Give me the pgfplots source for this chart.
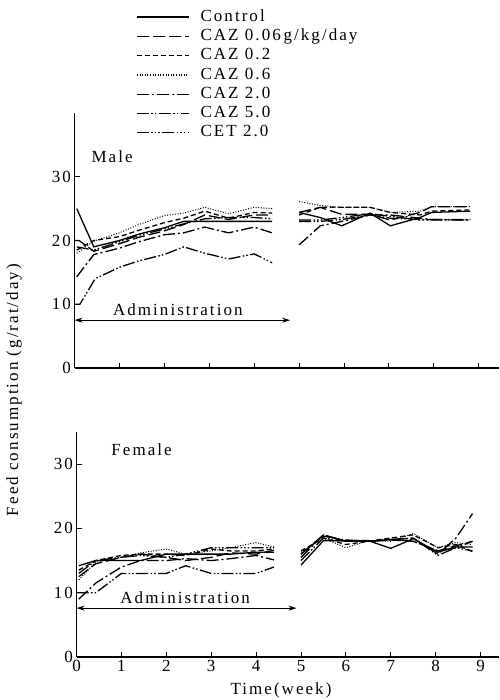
\documentclass[border=0pt]{standalone}
\usepackage{fontspec}
\setmainfont{Liberation Serif}[LetterSpace=12]
\usepackage{pgfplots}
\pgfplotsset{compat=1.18}
\usetikzlibrary{arrows.meta}

\newcommand{\fs}{\fontsize{17}{20}\selectfont}

\tikzset{
  s1/.style={solid},
  s2/.style={dash pattern=on 12pt off 4pt},
  s3/.style={dash pattern=on 5pt off 3pt},
  s4/.style={dash pattern=on 1pt off 1.6pt, line width=1pt},
  s5/.style={dash pattern=on 12pt off 3pt on 2pt off 3pt},
  s6/.style={dash pattern=on 12pt off 2.5pt on 1.5pt off 2pt on 1.5pt off 2.5pt},
  s7/.style={dash pattern=on 12pt off 2.5pt on 1.5pt off 2pt on 1.5pt off 2pt on 1.5pt off 2.5pt},
  admin/.style={{Stealth[length=8pt,width=5pt]}-{Stealth[length=8pt,width=5pt]}, line width=1pt},
}

\pgfplotsset{
  panel/.style={
    scale only axis,
    axis x line=bottom, axis y line=left,
    axis line style={-, line width=1.1pt},
    tick align=inside, major tick length=5pt,
    tick style={line width=1pt, black},
    xmin=0, ymin=0,
    xtick={0,...,9}, ytick={0,10,20,30},
    unbounded coords=jump,
    /pgf/number format/assume math mode=true,
    tick label style={font=\fs},
    every axis plot/.append style={line width=1.3pt, black},
    clip=false,
  },
}

\begin{document}
\begin{tikzpicture}[x=1pt,y=1pt]
\path[use as bounding box] (0,0) rectangle (499,700);

% male
\begin{axis}[panel,
  at={(74.5pt,332pt)}, anchor=south west,
  width=424.5pt, height=255pt,
  xmax=9.45, ymax=40,
  xticklabels={},
  legend style={at={(axis description cs:0.145,1.412)}, anchor=north west,
    draw=none, fill=none, inner sep=0pt, font=\fs, row sep=1.5pt,
    nodes={inner sep=1pt, text height=12pt, text depth=3.8pt}},
  /tikz/every odd column/.append style={column sep=10pt},
  legend cell align=left,
  legend image code/.code={\draw[#1, line width=1.3pt] (0pt,0pt) -- (52pt,0pt);},
]
\addplot[s1] coordinates {(0.05,25) (0.43,19) (1,20) (1.43,21) (2,22) (2.43,23) (2.9,23) (3.43,23) (4,23) (4.4,23) (4.7,nan)
  (5,24.4) (5.47,23.6) (5.95,22.3) (6.58,24.3) (7.03,22.3) (7.69,23.6) (7.95,24.4) (8.81,24.6)};
\addlegendentry{Control}
\addplot[s2] coordinates {(0,20) (0.1,20) (0.43,18.3) (1,19.5) (1.43,20.5) (2,21.5) (2.43,22.5) (2.9,24) (3.43,23.3) (4,24) (4.4,24) (4.7,nan)
  (5,24.4) (5.47,25.2) (5.95,24.1) (6.58,24.1) (7.03,23.2) (7.69,24.4) (7.95,25.3) (8.81,25.3)};
\addlegendentry{CAZ 0.06\,g/kg/day}
\addplot[s3] coordinates {(0.05,18.5) (0.43,20) (1,20.6) (1.43,21.6) (2,22.8) (2.43,23.5) (2.9,24.6) (3.43,23.5) (4,24.4) (4.4,24.3) (4.7,nan)
  (5,24) (5.47,25.2) (5.95,25.2) (6.58,25.2) (7.03,24.4) (7.69,24) (7.95,24.6) (8.81,24.8)};
\addlegendentry{CAZ 0.2}
\addplot[s4] coordinates {(0.05,18) (0.43,19.9) (1,21.2) (1.43,22.5) (2,23.9) (2.43,24.3) (2.9,25.2) (3.43,24.2) (4,25.2) (4.4,25) (4.7,nan)
  (5,26.1) (5.47,25.5) (5.95,25.2) (6.58,25.2) (7.03,24.4) (7.69,24.6) (7.95,25.3) (8.81,25.3)};
\addlegendentry{CAZ 0.6}
\addplot[s5] coordinates {(0.05,14.3) (0.43,17.8) (1,18.8) (1.43,19.8) (2,20.9) (2.43,21.2) (2.9,22.1) (3.43,21.2) (4,22.1) (4.4,21.2) (4.7,nan)
  (5,19.3) (5.47,22.3) (5.95,23) (6.58,24) (7.03,24) (7.69,23.5) (7.95,23.3) (8.81,23.2)};
\addlegendentry{CAZ 2.0}
\addplot[s6] coordinates {(0,10) (0.12,10) (0.46,14) (1,15.8) (1.43,16.8) (2,17.8) (2.43,19) (2.9,18) (3.43,17.1) (4,17.9) (4.4,16.5) (4.7,nan)
  (5,23) (5.47,23) (5.95,23.3) (6.58,24) (7.03,23.5) (7.69,23.3) (7.95,23.2) (8.81,23.2)};
\addlegendentry{CAZ 5.0}
\addplot[s7] coordinates {(0.05,19) (0.43,18.5) (1,19.8) (1.43,20.8) (2,21.8) (2.43,22.6) (2.9,23.4) (3.43,23.6) (4,23.6) (4.4,23.4) (4.7,nan)
  (5,23.2) (5.47,23.2) (5.95,23.6) (6.58,24.2) (7.03,23.8) (7.69,23.2) (7.95,23.3) (8.81,23.3)};
\addlegendentry{CET 2.0}
\node[anchor=west, font=\fs] at (axis cs:0.3,33.2) {Male};
\draw[admin] (axis cs:0,7.5) -- (axis cs:4.8,7.5);
\node[anchor=south, font=\fs, inner sep=1pt] at (axis cs:2.3,8) {Administration};
\end{axis}

% female
\begin{axis}[panel,
  at={(76.5pt,43pt)}, anchor=south west,
  width=422.5pt, height=225pt,
  xmax=9.41, ymax=35,
]
\addplot[s1] coordinates {(0.05,14.2) (0.43,15) (1,15) (1.43,15) (2,16) (2.43,16) (3,16) (3.43,16) (4,16.3) (4.4,16.3) (4.7,nan)
  (5,14.3) (5.5,18.1) (6,18.1) (6.5,18.1) (7,16.9) (7.5,18.4) (8.05,16.3) (8.45,17.1) (8.82,17.1)};
\addplot[s2] coordinates {(0.05,12.5) (0.43,14.5) (1,15.5) (1.43,16) (2,15.5) (2.43,15) (3,15.5) (3.43,16.2) (4,16) (4.4,16.6) (4.7,nan)
  (5,16) (5.5,19) (6,18) (6.5,18) (7,18.2) (7.5,18) (8.05,16.5) (8.45,17.3) (8.82,18)};
\addplot[s3] coordinates {(0.05,13.5) (0.43,15) (1,15.8) (1.43,16) (2,16) (2.43,15.8) (3,16.8) (3.43,16.5) (4,16.5) (4.4,16.8) (4.7,nan)
  (5,16.5) (5.5,18.5) (6,17.5) (6.5,18) (7,18.5) (7.5,19) (8.05,17) (8.45,17.5) (8.82,16.4)};
\addplot[s4] coordinates {(0.05,12) (0.43,14.8) (1,15.5) (1.43,16.2) (2,16.8) (2.43,16) (3,16.5) (3.43,17) (4,17.8) (4.4,17.1) (4.7,nan)
  (5,16.3) (5.5,18.5) (6,17) (6.5,18.1) (7,18) (7.5,19.2) (8.05,17) (8.45,17.8) (8.82,17.5)};
\addplot[s5] coordinates {(0.05,9) (0.43,11.5) (1,14) (1.43,15) (2,15) (2.43,15.3) (3,15) (3.43,15.3) (4,15.8) (4.4,15.1) (4.7,nan)
  (5,15.5) (5.5,19) (6,18) (6.5,18) (7,18.3) (7.5,18.5) (8.05,16) (8.45,18.5) (8.82,22.3)};
\addplot[s6] coordinates {(0,10) (0.43,10) (1,13) (1.43,13) (2,13) (2.43,14.2) (3,13) (3.43,13) (4,13) (4.4,14) (4.7,nan)
  (5,15) (5.5,18.5) (6,18) (6.5,18) (7,18.3) (7.5,18) (8.05,16.5) (8.45,17) (8.82,18)};
\addplot[s7] coordinates {(0.05,13) (0.43,15) (1,15.5) (1.43,15.8) (2,15.5) (2.43,16) (3,17) (3.43,17) (4,17) (4.4,17) (4.7,nan)
  (5,16) (5.5,18.8) (6,18.2) (6.5,18) (7,18.2) (7.5,18.5) (8.05,15.8) (8.45,17) (8.82,16.5)};
\node[anchor=west, font=\fs] at (axis cs:0.7,32.2) {Female};
\draw[admin] (axis cs:0,7.6) -- (axis cs:4.9,7.6);
\node[anchor=south, font=\fs, inner sep=1pt] at (axis cs:2.42,8.1) {Administration};
\end{axis}

\node[rotate=90, font=\fs] at (14,310) {Feed consumption (g/rat/day)};
\node[font=\fs] at (281,10) {Time(week)};
\end{tikzpicture}
\end{document}
